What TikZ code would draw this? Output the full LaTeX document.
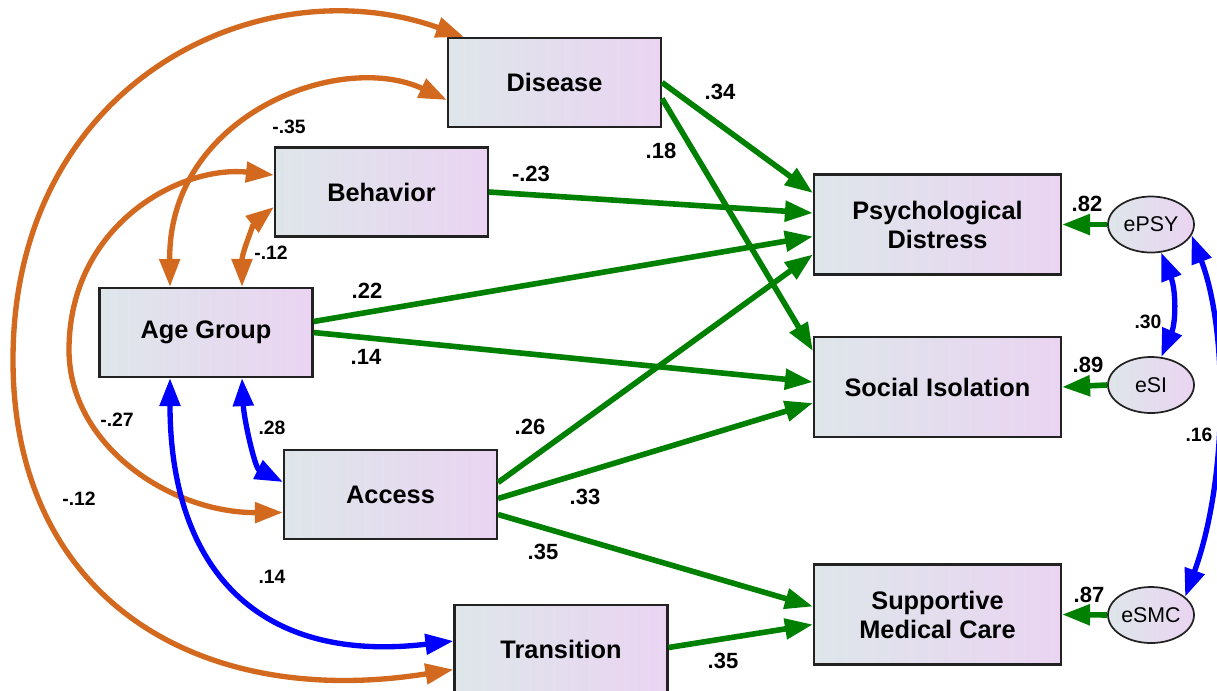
\documentclass[tikz,border=0pt]{standalone}
\usepackage{fontspec}
\setmainfont{Liberation Sans}
\usetikzlibrary{arrows.meta,calc,shapes.geometric}
\definecolor{agreen}{RGB}{0,128,0}
\definecolor{aorange}{RGB}{210,105,30}
\definecolor{ablue}{RGB}{0,0,255}
\definecolor{boxL}{RGB}{222,230,234}
\definecolor{boxR}{RGB}{234,212,242}
\definecolor{bord}{RGB}{34,34,34}
\begin{document}
\begin{tikzpicture}[x=0.75pt,y=-0.75pt,
 box/.style={draw=bord,line width=1.6pt,left color=boxL,right color=boxR,minimum width=159.75pt,minimum height=66.75pt,inner sep=0pt,align=center,font=\fontsize{19}{21.75}\selectfont\bfseries},
 obox/.style={box,minimum width=185.25pt,minimum height=75pt},
 err/.style={ellipse,draw=bord,line width=1.3pt,left color=boxL,right color=boxR,minimum width=64.5pt,minimum height=42pt,inner sep=0pt,font=\fontsize{16}{18}\selectfont},
 reg/.style={draw=agreen,line width=4.2pt,-{Triangle[length=21pt,width=15pt]}},
 cov/.style={line width=4pt,{Triangle[length=21pt,width=15pt]}-{Triangle[length=21pt,width=15pt]}},
 plab/.style={inner sep=0pt,font=\fontsize{16.5}{18}\selectfont\bfseries},
 clab/.style={inner sep=0pt,font=\fontsize{14.5}{16}\selectfont\bfseries}
]
\useasboundingbox (0,0) rectangle (1217,690);
% nodes
\node[box] (dis) at (554.5,82.5) {Disease};
\node[box] (beh) at (381.5,192) {Behavior};
\node[box] (age) at (206,332.5) {Age Group};
\node[box] (acc) at (390.5,494.5) {Access};
\node[box] (tra) at (561,649.5) {Transition};
\node[obox] (psy) at (937.5,224.5) {Psychological\\Distress};
\node[obox] (soc) at (937.5,387) {Social Isolation};
\node[obox] (smc) at (937.5,614.5) {Supportive\\Medical Care};
\node[err] (epsy) at (1151,224.5) {ePSY};
\node[err] (esi) at (1151,385) {eSI};
\node[err] (esmc) at (1151,615) {eSMC};
% regression paths
\draw[reg] (dis.east) -- ($(psy.west)+(0,-31.5)$);
\draw[reg] ($(dis.east)+(0,16)$) -- ($(soc.west)+(0,-36)$);
\draw[reg] (beh.east) -- ($(psy.west)+(0,-11.5)$);
\draw[reg] ($(age.east)+(0,-11)$) -- ($(psy.west)+(0,12)$);
\draw[reg] (age.east) -- ($(soc.west)+(0,-5)$);
\draw[reg] ($(acc.east)+(0,-12)$) -- ($(psy.west)+(0,30)$);
\draw[reg] ($(acc.east)+(0,4)$) -- ($(soc.west)+(0,16)$);
\draw[reg] ($(acc.east)+(0,20)$) -- ($(smc.west)+(0,-8)$);
\draw[reg] ($(tra.east)+(0,-2)$) -- ($(smc.west)+(0,10)$);
\draw[reg] (epsy.west) -- (psy.east);
\draw[reg] (esi.west) -- (soc.east);
\draw[reg] (esmc.west) -- (smc.east);
% covariances
\draw[cov,aorange] ($(dis.north west)+(17,0)$) .. controls (262,-36) and (13,80) .. (13,360) .. controls (13,600) and (200,710) .. ($(tra.west)+(0,20)$);
\draw[cov,aorange] ($(dis.west)+(0,17.5)$) .. controls (340,50) and (168,115) .. ($(age.north)+(-36,0)$);
\draw[cov,aorange] ($(beh.west)+(0,-17)$) .. controls (180,165) and (69,225) .. (69,350) .. controls (69,445) and (170,513) .. ($(acc.west)+(0,18)$);
\draw[cov,aorange] ($(beh.west)+(0,15)$) .. controls (255,222) and (242,252) .. ($(age.north)+(36,0)$);
\draw[cov,ablue] ($(age.south)+(36,0)$) .. controls (244,420) and (255,468) .. ($(acc.west)+(0,-12.5)$);
\draw[cov,ablue] ($(age.south)+(-36,0)$) .. controls (170,560) and (250,665) .. ($(tra.west)+(0,-8.5)$);
\draw[cov,ablue] (epsy.-70) .. controls (1176,290) and (1176,322) .. (esi.70);
\draw[cov,ablue] (epsy.-15) .. controls (1228,330) and (1228,480) .. (esmc.28);
% path labels
\node[plab] at (720,92) {.34};
\node[plab] at (661,151) {.18};
\node[plab] at (531,174) {-.23};
\node[plab] at (367,291) {.22};
\node[plab] at (366,357) {.14};
\node[plab] at (530,427) {.26};
\node[plab] at (585,497) {.33};
\node[plab] at (543,552) {.35};
\node[plab] at (723,661) {.35};
\node[plab] at (1087,204) {.82};
\node[plab] at (1088,365) {.89};
\node[plab] at (1089,595) {.87};
% covariance labels
\node[clab] at (289,127) {-.35};
\node[clab] at (271,253) {-.12};
\node[clab] at (117,420) {-.27};
\node[clab] at (79,499) {-.12};
\node[clab] at (272,428) {.28};
\node[clab] at (272,577) {.14};
\node[clab] at (1148,322) {.30};
\node[clab] at (1199,435) {.16};
\end{tikzpicture}
\end{document}
